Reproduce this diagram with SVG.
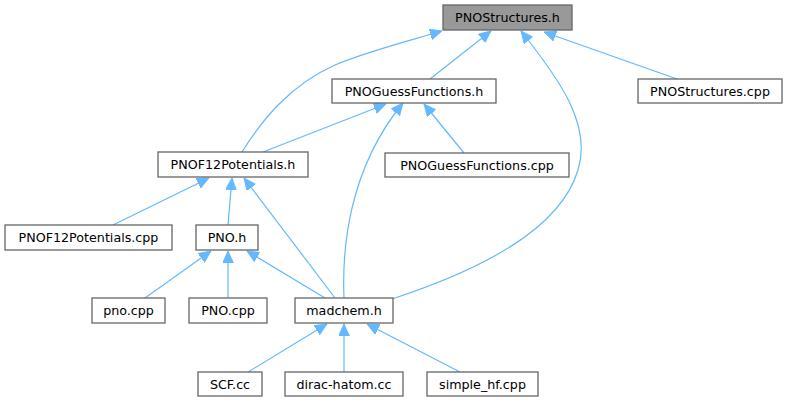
<svg xmlns="http://www.w3.org/2000/svg" width="787" height="403" viewBox="0 0 787 403">
<defs>
<style>
.n rect{fill:#ffffff;stroke:#666666;stroke-width:1.3}
.n text{font-family:"DejaVu Sans",sans-serif;font-size:12.7px;fill:#000000;text-anchor:middle}
#n0 rect{fill:#999999}
.e path{fill:none;stroke:#63b8ff;stroke-width:1.2;marker-end:url(#ah)}
</style>
<marker id="ah" markerUnits="userSpaceOnUse" markerWidth="14" markerHeight="12" refX="12" refY="5.5" orient="auto">
<path d="M0,0 L12,5.5 L0,11 z" fill="#63b8ff" stroke="#63b8ff" stroke-width="0.8"/>
</marker>
</defs>
<rect width="787" height="403" fill="#ffffff"/>
<g class="e" id="edges">
<path d="M242,152 C262,120 290,85 335,65 C365,52 405,42 442,31"/>
<path d="M430,79 L491,31"/>
<path d="M392,299 C480,270 560,230 578,170 C592,125 560,80 521,31"/>
<path d="M677,79 L544,32"/>
<path d="M263,152 L386,104"/>
<path d="M344,298 C342,250 348,170 403,103"/>
<path d="M464,153 L424,104"/>
<path d="M113,225 L209,178"/>
<path d="M228,225 L232,178"/>
<path d="M335,298 L244,178"/>
<path d="M145,298 L211,251"/>
<path d="M228,298 L228,251"/>
<path d="M325,298 L247,251"/>
<path d="M248,372 L327,324"/>
<path d="M344,372 L344,324"/>
<path d="M460,372 L367,324"/>
</g>
<g class="n" id="n0"><rect x="443" y="5" width="129" height="25"/><text x="507.5" y="22">PNOStructures.h</text></g>
<g class="n" id="n1"><rect x="332" y="79" width="164" height="24"/><text x="414" y="95.5">PNOGuessFunctions.h</text></g>
<g class="n" id="n2"><rect x="638" y="79" width="144" height="24"/><text x="710" y="95.5">PNOStructures.cpp</text></g>
<g class="n" id="n3"><rect x="158" y="152" width="150" height="25"/><text x="233" y="169">PNOF12Potentials.h</text></g>
<g class="n" id="n4"><rect x="385" y="153" width="184" height="24"/><text x="477" y="169.5">PNOGuessFunctions.cpp</text></g>
<g class="n" id="n5"><rect x="5" y="225" width="167" height="25"/><text x="88.5" y="242">PNOF12Potentials.cpp</text></g>
<g class="n" id="n6"><rect x="196" y="225" width="62" height="25"/><text x="227" y="242">PNO.h</text></g>
<g class="n" id="n7"><rect x="92" y="298" width="73" height="25"/><text x="128.5" y="315">pno.cpp</text></g>
<g class="n" id="n8"><rect x="189" y="298" width="78" height="25"/><text x="228" y="315">PNO.cpp</text></g>
<g class="n" id="n9"><rect x="295" y="298" width="98" height="25"/><text x="344" y="315">madchem.h</text></g>
<g class="n" id="n10"><rect x="198" y="372" width="64" height="24"/><text x="230" y="388.5">SCF.cc</text></g>
<g class="n" id="n11"><rect x="285" y="372" width="118" height="24"/><text x="344" y="388.5">dirac-hatom.cc</text></g>
<g class="n" id="n12"><rect x="427" y="372" width="111" height="24"/><text x="482.5" y="388.5">simple_hf.cpp</text></g>
</svg>
